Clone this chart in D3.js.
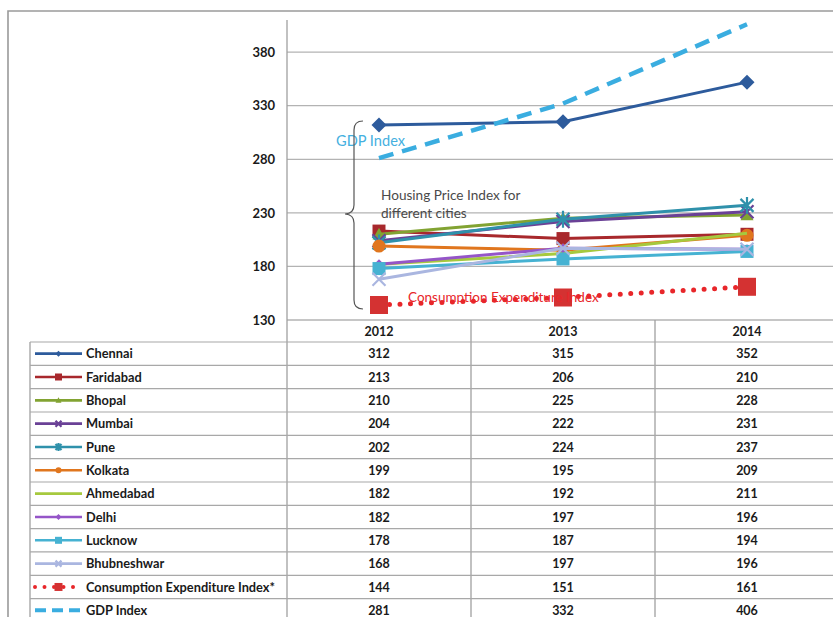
<!DOCTYPE html>
<html>
<head>
<meta charset="utf-8">
<script src="https://cdn.jsdelivr.net/npm/d3@7"></script>
<style>
  html, body { margin: 0; padding: 0; background: #fff; }
  svg { display: block; }
  text { font-family: Lato, "Open Sans", "Liberation Sans", sans-serif; }
</style>
</head>
<body>
<svg id="chart" width="833" height="617"></svg>
<script>
// Years on the category axis
const years = ["2012", "2013", "2014"];

// Index values per series, 2012-2014
const chennai     = [312, 315, 352];
const faridabad   = [213, 206, 210];
const bhopal      = [210, 225, 228];
const mumbai      = [204, 222, 231];
const pune        = [202, 224, 237];
const kolkata     = [199, 195, 209];
const ahmedabad   = [182, 192, 211];
const delhi       = [182, 197, 196];
const lucknow     = [178, 187, 194];
const bhubneshwar = [168, 197, 196];
const consumption = [144, 151, 161];
const gdp         = [281, 332, 406];

const seriesNames = ["Chennai", "Faridabad", "Bhopal", "Mumbai", "Pune", "Kolkata",
  "Ahmedabad", "Delhi", "Lucknow", "Bhubneshwar", "Consumption Expenditure Index*", "GDP Index"];
const seriesValues = [chennai, faridabad, bhopal, mumbai, pune, kolkata,
  ahmedabad, delhi, lucknow, bhubneshwar, consumption, gdp];

// Value axis ticks
const yTicks = [130, 180, 230, 280, 330, 380];

// Styling per series
const seriesColors = ["#2d5b9c", "#a8282c", "#82a332", "#6a4196", "#2f91ab", "#e0761e",
  "#a6c93e", "#9555c8", "#46b2d2", "#aab6e0", "#e8262a", "#3aade0"];
const markerTypes = ["diamond", "square", "triangle", "x", "star", "circle",
  "none", "diamond-s", "square", "x", "bigsquare", "none"];

const svg = d3.select("#chart");

const plotLeft = 287, plotRight = 839, plotTop = 20, plotBottom = 320;
const x = d3.scaleBand().domain(years).range([plotLeft, plotRight]);
const cx = d => x(d) + x.bandwidth() / 2;
const y = d3.scaleLinear().domain([130, 410]).range([plotBottom, plotTop]);

// Outer frame
svg.append("path")
  .attr("d", "M8,620 L8,11 L840,11")
  .attr("fill", "none").attr("stroke", "#9a9a9a").attr("stroke-width", 1.6);

// Gridlines
svg.append("g").selectAll("line").data(yTicks).join("line")
  .attr("x1", plotLeft).attr("x2", plotRight)
  .attr("y1", d => y(d)).attr("y2", d => y(d))
  .attr("stroke", "#b3b3b3").attr("stroke-width", 1.3);

// Value axis
const yAxis = d3.axisLeft(y).tickValues(yTicks).tickSize(0).tickPadding(12);
const yg = svg.append("g").attr("transform", `translate(${plotLeft},0)`).call(yAxis);
yg.select(".domain").remove();
yg.selectAll("text").attr("font-size", 13).attr("font-weight", "bold").attr("fill", "#1a1a1a");

// Data table under the plot
const rowH = 23.33;
const tableTop = 342;
const tableLeft = 30;
const nRows = seriesNames.length;
const tableG = svg.append("g");
// vertical separators
const vlines = [plotLeft, x("2013"), x("2014")];
tableG.selectAll("line.v").data(vlines).join("line").attr("class", "v")
  .attr("x1", d => d).attr("x2", d => d)
  .attr("y1", d => d === plotLeft ? plotTop : plotBottom).attr("y2", 620)
  .attr("stroke", "#a0a0a0").attr("stroke-width", 1.3);
tableG.append("line").attr("x1", tableLeft).attr("x2", tableLeft)
  .attr("y1", tableTop).attr("y2", 620).attr("stroke", "#a0a0a0").attr("stroke-width", 1.3);
tableG.selectAll("line.h").data(d3.range(nRows + 1)).join("line").attr("class", "h")
  .attr("x1", tableLeft).attr("x2", plotRight)
  .attr("y1", i => tableTop + i * rowH).attr("y2", i => tableTop + i * rowH)
  .attr("stroke", "#a8a8a8").attr("stroke-width", 1.2);

// header years
tableG.selectAll("text.yr").data(years).join("text").attr("class", "yr")
  .attr("x", d => cx(d)).attr("y", (plotBottom + tableTop) / 2 + 4.5)
  .attr("text-anchor", "middle").attr("font-size", 12.5).attr("font-weight", "bold")
  .attr("fill", "#1a1a1a").text(d => d);

// marker shapes
function markerPath(type, s) {
  switch (type) {
    case "diamond":
    case "diamond-s": return `M0,${-s}L${s},0L0,${s}L${-s},0Z`;
    case "square":
    case "bigsquare": return `M${-s},${-s}H${s}V${s}H${-s}Z`;
    case "triangle": return `M0,${-s}L${s},${s * 0.8}L${-s},${s * 0.8}Z`;
    case "x": return `M${-s},${-s}L${s},${s}M${s},${-s}L${-s},${s}`;
    case "star": return `M${-s},${-s}L${s},${s}M${s},${-s}L${-s},${s}M0,${-s * 1.3}L0,${s * 1.3}`;
    default: return "";
  }
}
function drawMarker(g, type, color, px, py, s) {
  if (type === "none") return;
  if (type === "circle") {
    g.append("circle").attr("cx", px).attr("cy", py).attr("r", s).attr("fill", color);
    return;
  }
  const stroked = (type === "x" || type === "star");
  const p = g.append("path").attr("d", markerPath(type, s))
    .attr("transform", `translate(${px},${py})`);
  if (stroked) p.attr("fill", "none").attr("stroke", color).attr("stroke-width", 2.2);
  else p.attr("fill", type === "bigsquare" ? "#d43232" : color);
}

// legend keys and values in rows
seriesNames.forEach((name, i) => {
  const rc = tableTop + i * rowH + rowH / 2;
  const color = seriesColors[i];
  const g = tableG.append("g");
  const key = g.append("line").attr("x1", 35).attr("x2", 82).attr("y1", rc).attr("y2", rc)
    .attr("stroke", color);
  if (i === 10) {
    key.attr("stroke-width", 4).attr("stroke-linecap", "round").attr("stroke-dasharray", "0,9.5");
    drawMarker(g, "square", "#d43232", 58.5, rc, 4);
  } else if (i === 11) {
    key.attr("stroke-width", 4).attr("stroke-dasharray", "11,6");
  } else {
    key.attr("stroke-width", 2.6);
    const s = markerTypes[i] === "square" ? 3.5 : 3;
    if (markerTypes[i] !== "none") drawMarker(g, markerTypes[i], color, 58.5, rc, s);
  }
  g.append("text").attr("x", 86).attr("y", rc + 4.6).attr("font-size", 12.8)
    .attr("font-weight", "bold").attr("fill", "#1a1a1a").text(name);
  g.selectAll("text.val").data(seriesValues[i]).join("text").attr("class", "val")
    .attr("x", (d, j) => cx(years[j])).attr("y", rc + 4.6)
    .attr("text-anchor", "middle").attr("font-size", 12.5).attr("font-weight", "bold")
    .attr("fill", "#1a1a1a").text(d => d);
});

// series lines
const lineGen = d3.line().x((d, j) => cx(years[j])).y(d => y(d));
const seriesG = svg.append("g");
seriesValues.forEach((vals, i) => {
  const color = seriesColors[i];
  const g = seriesG.append("g");
  const path = g.append("path").attr("d", lineGen(vals)).attr("fill", "none").attr("stroke", color);
  if (i === 10) {
    path.attr("stroke-width", 5).attr("stroke-linecap", "round").attr("stroke-dasharray", "0,10.5");
  } else if (i === 11) {
    path.attr("stroke-width", 4.5).attr("stroke-dasharray", "15,9");
  } else {
    path.attr("stroke-width", 3);
  }
  const t = markerTypes[i];
  const size = t === "bigsquare" ? 9 : t === "diamond" ? 7.5 : t === "circle" ? 6.5 :
    t === "square" ? 6.5 : t === "diamond-s" ? 5 : 6.5;
  vals.forEach((v, j) => drawMarker(g, t, color, cx(years[j]), y(v), size));
});

// annotations
svg.append("text").attr("x", 336).attr("y", 145.5).attr("font-size", 14.6)
  .attr("fill", "#45b0df").text("GDP Index");

svg.append("path")
  .attr("d", "M363,121 Q354,121 354,130 L354,205 Q354,213.5 345,214 Q354,214.5 354,223 L354,300 Q354,309 363,309")
  .attr("fill", "none").attr("stroke", "#555").attr("stroke-width", 1.2);

svg.append("text").attr("x", 381).attr("y", 199.5).attr("font-size", 13.6)
  .attr("fill", "#4a4a4a").text("Housing Price Index for");
svg.append("text").attr("x", 381).attr("y", 218).attr("font-size", 13.6)
  .attr("fill", "#4a4a4a").text("different cities");

svg.append("text").attr("x", 408).attr("y", 302).attr("font-size", 13.5)
  .attr("fill", "#e8262a").text("Consumption Expenditure Index");
</script>
</body>
</html>
